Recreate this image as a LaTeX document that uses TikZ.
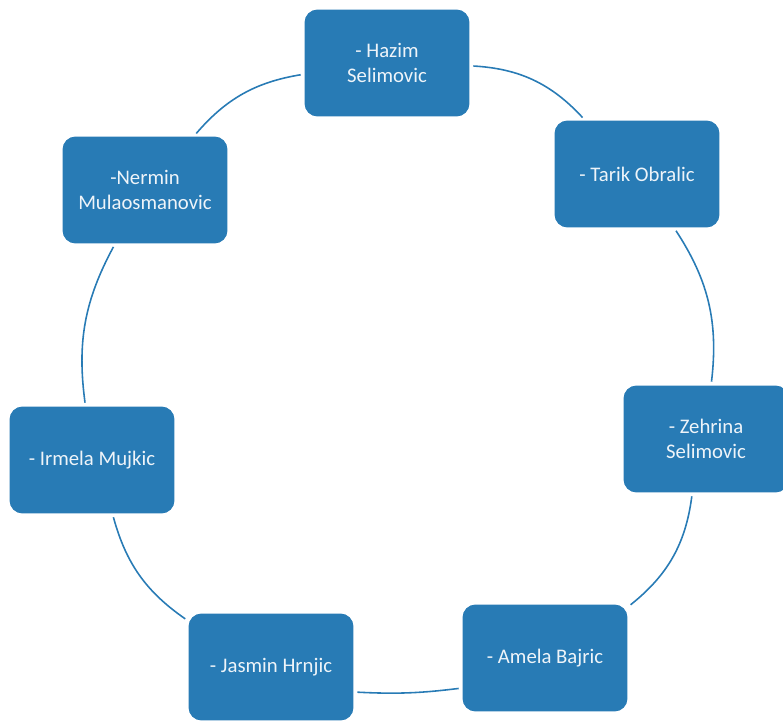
\documentclass[tikz,border=0pt]{standalone}
\usepackage{fontspec}
\setmainfont{Carlito}
\definecolor{boxblue}{RGB}{40,123,181}
\definecolor{boxtext}{RGB}{238,244,249}

\begin{document}
\begin{tikzpicture}[x=0.02cm, y=-0.02cm,
	member/.style={draw=none, fill=boxblue, rounded corners=0.26cm, minimum width=3.3cm, minimum height=2.14cm,
		text=boxtext, align=center, font=\fontsize{11.8}{14}\selectfont, inner sep=2pt},
	ring/.style={draw=boxblue, line width=0.9pt, shorten <=2pt, shorten >=2pt}]

		\useasboundingbox (0,0) rectangle (783,722);

		\node[member] (hazim) at (387,63) {- Hazim\\Selimovic};
		\node[member] (tarik) at (637,174) {- Tarik Obralic};
		\node[member] (zehrina) at (706,439) {- Zehrina\\Selimovic};
		\node[member] (amela) at (545,658) {- Amela Bajric};
		\node[member] (jasmin) at (271,667) {- Jasmin Hrnjic};
		\node[member] (irmela) at (92,460) {- Irmela Mujkic};
		\node[member] (nermin) at (145,190) {-Nermin\\Mulaosmanovic};

		\draw[ring] (hazim) to[bend left=22] (tarik);
		\draw[ring] (tarik) to[bend left=20] (zehrina);
		\draw[ring] (zehrina) to[bend left=22] (amela);
		\draw[ring] ([yshift=-0.6cm]amela.west) to[bend left=5] ([yshift=-0.5cm]jasmin.east);
		\draw[ring] (jasmin) to[bend left=20] (irmela);
		\draw[ring] (irmela) to[bend left=18] (nermin);
		\draw[ring] (nermin) to[bend left=20] (hazim);

	\end{tikzpicture}
\end{document}
